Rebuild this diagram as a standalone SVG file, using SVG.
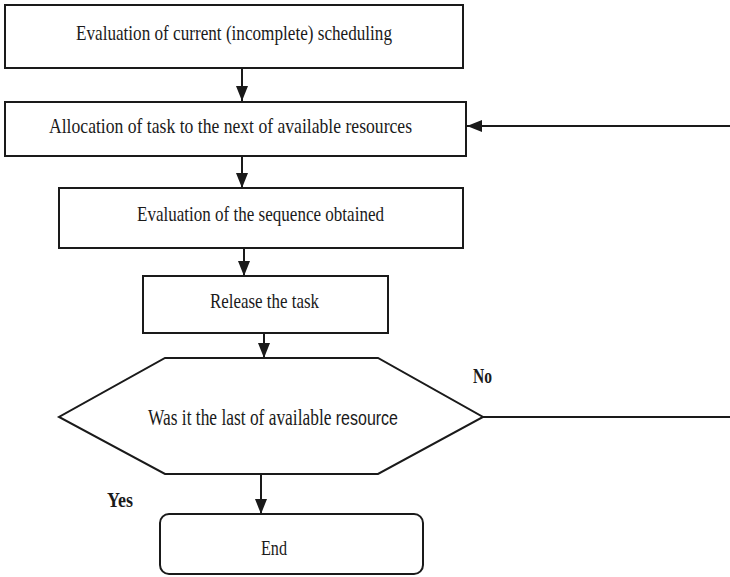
<svg xmlns="http://www.w3.org/2000/svg" width="730" height="577" viewBox="0 0 730 577">
<style>
.box{fill:#fff;stroke:#1a1a1a;stroke-width:2}
.t{font-family:"Liberation Serif","Times New Roman",serif;font-size:22px;fill:#1a1a1a;text-anchor:start}
.b{font-family:"Liberation Serif","Times New Roman",serif;font-size:21px;font-weight:bold;fill:#1a1a1a}
.s{font-family:"Liberation Sans",Arial,sans-serif}
.c{fill:none;stroke:#1a1a1a;stroke-width:2}
</style>
<defs>
<marker id="ah" markerUnits="userSpaceOnUse" markerWidth="15" markerHeight="12" refX="15" refY="6" orient="auto" viewBox="0 0 15 12">
<path d="M0,0 L15,6 L0,12 Z" fill="#1a1a1a"/>
</marker>
</defs>
<g id="connectors">
<line class="c" x1="242" y1="68" x2="242" y2="101" marker-end="url(#ah)"/>
<line class="c" x1="242" y1="156" x2="242" y2="188" marker-end="url(#ah)"/>
<line class="c" x1="244" y1="248" x2="244" y2="276" marker-end="url(#ah)"/>
<line class="c" x1="264" y1="333" x2="264" y2="358" marker-end="url(#ah)"/>
<line class="c" x1="261" y1="474" x2="261" y2="514" marker-end="url(#ah)"/>
<line class="c" x1="483" y1="417" x2="730" y2="417"/>
<line class="c" x1="730" y1="126" x2="467" y2="126" marker-end="url(#ah)"/>
</g>
<g id="n1">
<rect class="box" x="5" y="5" width="458" height="63"/>
<text class="t" x="76" y="40" textLength="316" lengthAdjust="spacingAndGlyphs">Evaluation of current (incomplete) scheduling</text>
</g>
<g id="n2">
<rect class="box" x="5" y="102" width="461" height="54"/>
<text class="t" x="49" y="133" textLength="363" lengthAdjust="spacingAndGlyphs">Allocation of task to the next of available resources</text>
</g>
<g id="n3">
<rect class="box" x="59" y="188" width="404" height="60"/>
<text class="t" x="137" y="221" textLength="247" lengthAdjust="spacingAndGlyphs">Evaluation of the sequence obtained</text>
</g>
<g id="n4">
<rect class="box" x="143" y="276" width="245" height="57"/>
<text class="t" x="210" y="308" textLength="109" lengthAdjust="spacingAndGlyphs">Release the task</text>
</g>
<g id="n5">
<polygon class="box" points="165,358 378,358 483,417 378,474 165,474 59,417"/>
<text class="t" transform="translate(148,425) scale(1,1.3)" x="0" y="0" style="font-size:17.4px">Was it the last of available <tspan class="s" style="font-size:16px">resource</tspan></text>
</g>
<g id="n6">
<rect class="box" x="160" y="514" width="263" height="60" rx="9" ry="9"/>
<text class="t" x="261" y="555" textLength="26" lengthAdjust="spacingAndGlyphs">End</text>
</g>
<g id="labels">
<text class="b" x="107" y="507" textLength="26" lengthAdjust="spacingAndGlyphs">Yes</text>
<text class="b" x="473" y="383" textLength="19" lengthAdjust="spacingAndGlyphs">No</text>
</g>
</svg>
